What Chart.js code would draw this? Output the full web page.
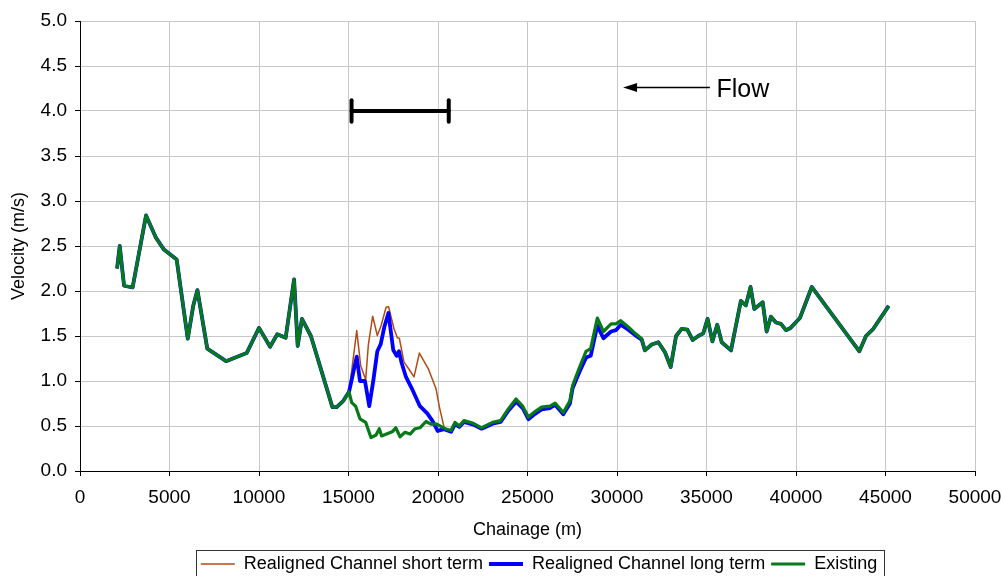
<!DOCTYPE html>
<html>
<head>
<meta charset="utf-8">
<script src="https://cdn.jsdelivr.net/npm/chart.js@4"></script>
<style>
html, body { margin: 0; padding: 0; background: #fff; overflow: hidden; }
#wrap { width: 1002px; height: 583px; position: relative; }
</style>
</head>
<body>
<div id="wrap"><canvas id="chart"></canvas></div>
<script>
// Existing
const existingX = [2070, 2220, 2460, 2940, 3690, 4250, 4690, 5400, 6020, 6330, 6560, 7110, 8160, 9310, 10000, 10620, 11020, 11490, 11960, 12160, 12400, 12900, 14100, 14340, 14710, 15030, 15180, 15400, 15640, 15960, 16260, 16540, 16720, 16850, 17230, 17470, 17640, 17880, 18160, 18440, 18720, 18990, 19330, 19610, 19930, 20390, 20730, 20950, 21190, 21450, 21970, 22440, 23050, 23500, 23930, 24360, 24730, 25050, 25420, 25790, 26260, 26540, 27000, 27370, 27520, 27900, 28270, 28530, 28900, 29240, 29670, 29940, 30210, 30630, 31010, 31380, 31560, 31940, 32310, 32680, 33000, 33300, 33610, 33930, 34230, 34540, 34820, 35060, 35330, 35600, 35850, 36370, 36920, 37200, 37460, 37670, 38140, 38360, 38600, 38880, 39160, 39440, 39670, 40220, 40880, 43540, 43910, 44320, 45180];
const existingV = [2.25, 2.50, 2.06, 2.04, 2.84, 2.59, 2.46, 2.35, 1.47, 1.84, 2.01, 1.36, 1.22, 1.31, 1.59, 1.38, 1.52, 1.48, 2.13, 1.39, 1.69, 1.50, 0.71, 0.71, 0.78, 0.88, 0.76, 0.72, 0.58, 0.54, 0.37, 0.40, 0.47, 0.39, 0.42, 0.44, 0.48, 0.38, 0.43, 0.41, 0.47, 0.48, 0.55, 0.52, 0.52, 0.47, 0.45, 0.54, 0.50, 0.56, 0.53, 0.48, 0.54, 0.56, 0.69, 0.80, 0.72, 0.60, 0.66, 0.71, 0.72, 0.755, 0.65, 0.78, 0.95, 1.15, 1.33, 1.36, 1.70, 1.55, 1.635, 1.635, 1.67, 1.60, 1.53, 1.47, 1.34, 1.405, 1.43, 1.32, 1.155, 1.50, 1.58, 1.57, 1.455, 1.50, 1.53, 1.69, 1.44, 1.625, 1.43, 1.345, 1.89, 1.84, 2.045, 1.80, 1.875, 1.55, 1.715, 1.65, 1.635, 1.565, 1.585, 1.70, 2.045, 1.33, 1.50, 1.58, 1.835];

// Realigned Channel long term
const longX = [2070, 2220, 2460, 2940, 3690, 4250, 4690, 5400, 6020, 6330, 6560, 7110, 8160, 9310, 10000, 10620, 11020, 11490, 11960, 12160, 12400, 12900, 14100, 14340, 14710, 15030, 15460, 15640, 15920, 16160, 16390, 16610, 16800, 17000, 17230, 17500, 17690, 17820, 17970, 18210, 18590, 18990, 19400, 19700, 19980, 20340, 20730, 20950, 21190, 21450, 21970, 22440, 23050, 23500, 23930, 24360, 24730, 25050, 25420, 25790, 26260, 26540, 27000, 27370, 27520, 27900, 28270, 28530, 28900, 29240, 29670, 29940, 30210, 30630, 31010, 31380, 31560, 31940, 32310, 32680, 33000, 33300, 33610, 33930, 34230, 34540, 34820, 35060, 35330, 35600, 35850, 36370, 36920, 37200, 37460, 37670, 38140, 38360, 38600, 38880, 39160, 39440, 39670, 40220, 40880, 43540, 43910, 44320, 45180];
const longV = [2.25, 2.50, 2.06, 2.04, 2.84, 2.59, 2.46, 2.35, 1.47, 1.84, 2.01, 1.36, 1.22, 1.31, 1.59, 1.38, 1.52, 1.48, 2.13, 1.39, 1.69, 1.50, 0.71, 0.71, 0.78, 0.88, 1.27, 1.00, 1.00, 0.72, 1.01, 1.33, 1.41, 1.60, 1.755, 1.345, 1.28, 1.33, 1.20, 1.045, 0.895, 0.72, 0.64, 0.555, 0.445, 0.465, 0.435, 0.52, 0.49, 0.545, 0.515, 0.47, 0.525, 0.545, 0.67, 0.77, 0.70, 0.575, 0.635, 0.685, 0.70, 0.735, 0.63, 0.75, 0.92, 1.10, 1.26, 1.28, 1.615, 1.475, 1.55, 1.565, 1.625, 1.57, 1.51, 1.46, 1.34, 1.405, 1.43, 1.32, 1.155, 1.50, 1.58, 1.57, 1.455, 1.50, 1.53, 1.69, 1.44, 1.625, 1.43, 1.34, 1.89, 1.84, 2.045, 1.80, 1.875, 1.55, 1.715, 1.65, 1.635, 1.565, 1.585, 1.70, 2.045, 1.33, 1.50, 1.58, 1.835];

// Realigned Channel short term
const shortX = [2070, 2220, 2460, 2940, 3690, 4250, 4690, 5400, 6020, 6330, 6560, 7110, 8160, 9310, 10000, 10620, 11020, 11490, 11960, 12160, 12400, 12900, 14100, 14340, 14710, 15030, 15460, 15680, 15960, 16110, 16350, 16610, 16820, 17100, 17240, 17540, 17730, 17840, 18100, 18400, 18660, 18960, 19460, 19890, 20080, 20340, 20730, 20950, 21190, 21450, 21970, 22440, 23050, 23500, 23930, 24360, 24730, 25050, 25420, 25790, 26260, 26540, 27000, 27370, 27520, 27900, 28270, 28530, 28900, 29240, 29670, 29940, 30210, 30630, 31010, 31380, 31560, 31940, 32310, 32680, 33000, 33300, 33610, 33930, 34230, 34540, 34820, 35060, 35330, 35600, 35850, 36370, 36920, 37200, 37460, 37670, 38140, 38360, 38600, 38880, 39160, 39440, 39670, 40220, 40880, 43540, 43910, 44320, 45180];
const shortV = [2.25, 2.50, 2.06, 2.04, 2.84, 2.59, 2.46, 2.35, 1.47, 1.84, 2.01, 1.36, 1.22, 1.31, 1.59, 1.38, 1.52, 1.48, 2.13, 1.39, 1.69, 1.50, 0.71, 0.71, 0.78, 0.88, 1.56, 1.17, 1.015, 1.405, 1.72, 1.505, 1.615, 1.82, 1.825, 1.58, 1.48, 1.475, 1.21, 1.125, 1.045, 1.31, 1.135, 0.915, 0.71, 0.485, 0.435, 0.52, 0.49, 0.545, 0.515, 0.47, 0.525, 0.545, 0.67, 0.77, 0.70, 0.575, 0.635, 0.685, 0.70, 0.735, 0.63, 0.75, 0.92, 1.10, 1.26, 1.28, 1.615, 1.475, 1.55, 1.565, 1.625, 1.57, 1.51, 1.46, 1.34, 1.405, 1.43, 1.32, 1.155, 1.50, 1.58, 1.57, 1.455, 1.50, 1.53, 1.69, 1.44, 1.625, 1.43, 1.34, 1.89, 1.84, 2.045, 1.80, 1.875, 1.55, 1.715, 1.65, 1.635, 1.565, 1.585, 1.70, 2.045, 1.33, 1.50, 1.58, 1.835];

const seriesLabels = ['Realigned Channel short term', 'Realigned Channel long term', 'Existing'];

// scale bar and flow arrow (chart units)
const barX = [15170, 20600];
const barY = [4.0, 4.0];
const capY = [3.88, 4.12];
const arrowX = [35190, 30340];
const arrowY = [4.26, 4.26];
const flowLabel = { text: 'Flow', x: 35560, y: 4.23 };

const FONT = '"Liberation Sans", Arial, sans-serif';
const LEGEND_CENTRE = 539; // the legend sits right of the page centre

function pts(xs, ys) {
    return xs.map((x, i) => ({ x: x, y: ys[i] }));
}

const extrasPlugin = {
    id: 'extras',
    afterLayout(chart) {
        // shift the legend row so it centres where the original one does
        const lg = chart.legend;
        const mid = (lg.left + lg.right) / 2;
        lg.left += 2 * (LEGEND_CENTRE - mid);
    },
    afterDraw(chart) {
        const ctx = chart.ctx;
        const xs = chart.scales.x;
        const ys = chart.scales.y;
        ctx.save();

        // arrow head
        const tx = xs.getPixelForValue(arrowX[1]);
        const ty = ys.getPixelForValue(arrowY[1]);
        ctx.fillStyle = '#000';
        ctx.beginPath();
        ctx.moveTo(tx, ty);
        ctx.lineTo(tx + 14, ty - 4.5);
        ctx.lineTo(tx + 14, ty + 4.5);
        ctx.closePath();
        ctx.fill();

        ctx.font = '25px ' + FONT;
        ctx.textBaseline = 'middle';
        ctx.textAlign = 'left';
        ctx.fillText(flowLabel.text, xs.getPixelForValue(flowLabel.x), ys.getPixelForValue(flowLabel.y));

        // frame round the legend
        const boxes = chart.legend.legendHitBoxes;
        if (boxes && boxes.length) {
            const first = boxes[0];
            const last = boxes[boxes.length - 1];
            const l = Math.round(first.left - 5) + 0.5;
            const r = Math.round(last.left + last.width + 7) + 0.5;
            const t = Math.round(first.top - 5) + 0.5;
            ctx.strokeStyle = '#333';
            ctx.lineWidth = 1;
            ctx.strokeRect(l, t, r - l, chart.height - t + 10);
        }
        ctx.restore();
    }
};

const datasets = [
    {
        label: seriesLabels[0],
        data: pts(shortX, shortV),
        borderColor: '#b04a16',
        backgroundColor: '#b04a16',
        borderWidth: 1.5,
        order: 2
    },
    {
        label: seriesLabels[1],
        data: pts(longX, longV),
        borderColor: '#0000ff',
        backgroundColor: '#0000ff',
        borderWidth: 3.8,
        order: 1
    },
    {
        label: seriesLabels[2],
        data: pts(existingX, existingV),
        borderColor: '#067a18',
        backgroundColor: '#067a18',
        borderWidth: 3.2,
        order: 0
    },
    {
        label: '',
        data: pts(barX, barY),
        borderColor: '#000',
        borderWidth: 4,
        borderCapStyle: 'round',
        order: 0
    },
    {
        label: '',
        data: pts([barX[0], barX[0]], capY),
        borderColor: '#000',
        borderWidth: 4,
        borderCapStyle: 'round',
        order: 0
    },
    {
        label: '',
        data: pts([barX[1], barX[1]], capY),
        borderColor: '#000',
        borderWidth: 4,
        borderCapStyle: 'round',
        order: 0
    },
    {
        label: '',
        data: pts([arrowX[0], arrowX[1] + 600], arrowY),
        borderColor: '#000',
        borderWidth: 1.5,
        order: 0
    }
];

new Chart(document.getElementById('chart'), {
    type: 'line',
    data: { datasets: datasets },
    plugins: [extrasPlugin],
    options: {
        responsive: true,
        maintainAspectRatio: false,
        animation: false,
        events: [],
        elements: {
            point: { radius: 0 },
            line: { tension: 0, borderJoinStyle: 'round' }
        },
        layout: { padding: { left: 0, right: 27, top: 21, bottom: 0 } },
        scales: {
            x: {
                type: 'linear',
                min: 0,
                max: 50000,
                ticks: {
                    stepSize: 5000,
                    autoSkip: false,
                    maxRotation: 0,
                    color: '#000',
                    padding: 10,
                    font: { size: 19, family: FONT },
                    callback: v => String(v)
                },
                grid: { color: '#c8c8c8', tickColor: '#000', tickLength: 5 },
                border: { color: '#000', width: 1 },
                title: {
                    display: true,
                    text: 'Chainage (m)',
                    color: '#000',
                    font: { size: 18, family: FONT },
                    padding: { top: 0, bottom: 8 }
                },
                afterFit: s => {
                    s.height = 78;
                    s.paddingLeft = 0;
                    s.paddingRight = 0;
                }
            },
            y: {
                min: 0,
                max: 5,
                ticks: {
                    stepSize: 0.5,
                    color: '#000',
                    padding: 8,
                    font: { size: 19, family: FONT },
                    callback: v => v.toFixed(1)
                },
                grid: { color: '#c8c8c8', tickColor: '#000', tickLength: 5 },
                border: { color: '#000', width: 1 },
                title: {
                    display: true,
                    text: 'Velocity (m/s)',
                    color: '#000',
                    font: { size: 18, family: FONT },
                    padding: { top: 8, bottom: 0 }
                },
                afterFit: s => { s.width = 80; }
            }
        },
        plugins: {
            tooltip: { enabled: false },
            legend: {
                position: 'bottom',
                labels: {
                    usePointStyle: true,
                    pointStyle: 'line',
                    pointStyleWidth: 34,
                    padding: 6,
                    color: '#000',
                    font: { size: 18, family: FONT },
                    filter: item => item.datasetIndex < 3,
                    sort: (a, b) => a.datasetIndex - b.datasetIndex
                }
            }
        }
    }
});
</script>
</body>
</html>
